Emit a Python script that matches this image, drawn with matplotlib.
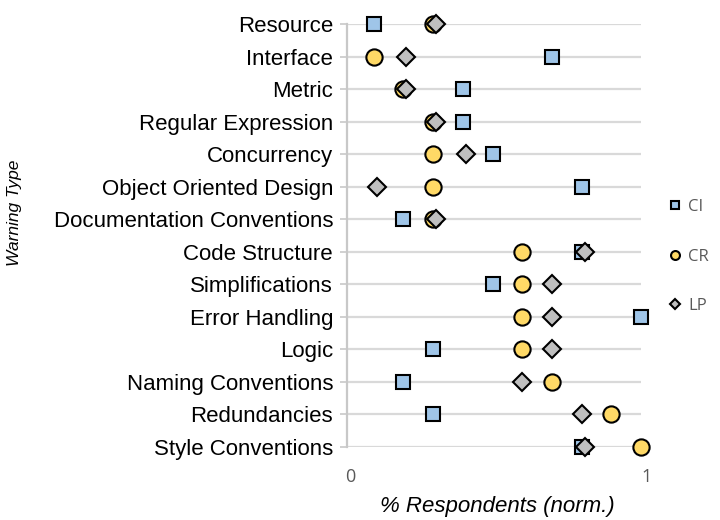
import numpy as np
import matplotlib
matplotlib.use('Agg')
import matplotlib.pyplot as plt

# Data
categories = ['Resource', 'Interface', 'Metric', 'Regular Expression', 'Concurrency',
              'Object Oriented Design', 'Documentation Conventions', 'Code Structure',
              'Simplifications', 'Error Handling', 'Logic', 'Naming Conventions',
              'Redundancies', 'Style Conventions']
ci = [0.08, 0.68, 0.38, 0.38, 0.48, 0.78, 0.18, 0.78, 0.48, 0.98, 0.28, 0.18, 0.28, 0.78]
cr = [0.28, 0.08, 0.18, 0.28, 0.28, 0.28, 0.28, 0.58, 0.58, 0.58, 0.58, 0.68, 0.88, 0.98]
lp = [0.29, 0.19, 0.19, 0.29, 0.39, 0.09, 0.29, 0.79, 0.68, 0.68, 0.68, 0.58, 0.78, 0.79]

plt.rcParams['font.family'] = ['Liberation Sans', 'DejaVu Sans']

fig = plt.figure(figsize=(7.2, 5.2), dpi=100)
ax = fig.add_axes([347/720, 1 - 447/520, 300/720, 423/520])

y = np.arange(len(categories))

# light grey row lines
ax.hlines(y, -0.01, 0.98, color='#d9d9d9', lw=1.6, zorder=0)

common = dict(linestyle='none', markeredgecolor='black', markeredgewidth=1.5, clip_on=False)
ax.plot(ci, y, marker='s', ms=10, markerfacecolor='#9fc5e8', label='CI', zorder=3, **common)
ax.plot(cr, y, marker='o', ms=11.7, markerfacecolor='#ffd966', label='CR', zorder=4, **common)
ax.plot(lp, y, marker='D', ms=9.2, markerfacecolor='#bfbfbf', label='LP', zorder=5, **common)

ax.set_xlim(-0.01, 1.0)
ax.set_ylim(len(categories) - 1, 0)
ax.set_yticks(y)
ax.set_yticklabels(categories, fontsize=16)
ax.set_xticks([0, 1])
ax.set_xticklabels(['0', '1'], fontsize=13, color='#595959', family=['Open Sans', 'DejaVu Sans'])

for s in ['top', 'right', 'bottom']:
    ax.spines[s].set_visible(False)
ax.spines['left'].set_color('#c8c8c8')
ax.spines['left'].set_linewidth(1.6)
ax.tick_params(axis='y', length=5, width=1.2, color='#c8c8c8', pad=5)
ax.tick_params(axis='x', length=0, pad=15)

ax.set_xlabel('% Respondents (norm.)', fontsize=16, style='italic')
ax.xaxis.set_label_coords(0.5, -0.115)
ax.set_ylabel('Warning Type', fontsize=12.5, style='italic')
ax.yaxis.set_label_coords(-1.083, 0.553)

leg = ax.legend(loc='center left', bbox_to_anchor=(1.015, 0.45), frameon=False,
                markerscale=0.55, labelspacing=2.0, handletextpad=0.3, handlelength=1.0,
                prop={'family': ['Open Sans', 'DejaVu Sans'], 'size': 12})
for t in leg.get_texts():
    t.set_color('#595959')

fig.savefig('out.png', dpi=100)
